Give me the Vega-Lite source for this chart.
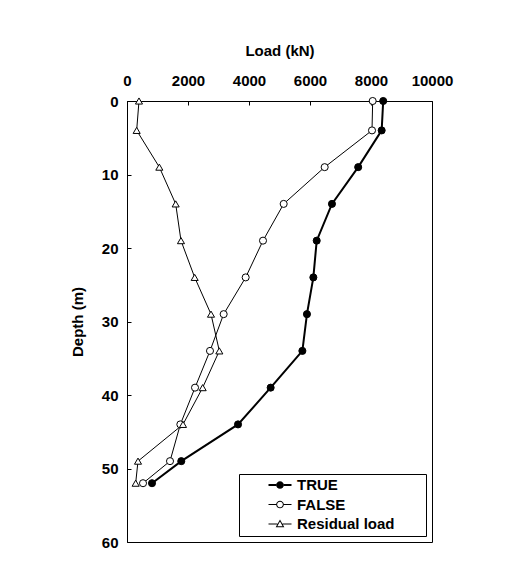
{
  "$schema": "https://vega.github.io/schema/vega-lite/v6.json",
  "width": 305,
  "height": 441,
  "autosize": {"type": "none"},
  "padding": {"left": 127, "top": 101, "right": 84, "bottom": 37},
  "background": "white",
  "config": {
    "view": {"stroke": "black", "strokeWidth": 1},
    "font": "Liberation Sans",
    "axis": {
      "grid": false,
      "domainColor": "black",
      "tickColor": "black",
      "tickSize": -4,
      "labelFont": "Liberation Sans",
      "labelFontSize": 15,
      "labelFontWeight": "bold",
      "labelColor": "black",
      "titleFont": "Liberation Sans",
      "titleFontSize": 15,
      "titleFontWeight": "bold",
      "titleColor": "black",
      "labelFlush": false,
      "labelOverlap": false
    },
    "legend": {
      "labelFont": "Liberation Sans",
      "labelFontSize": 15,
      "labelFontWeight": "bold",
      "labelColor": "black"
    }
  },
  "data": {
    "values": [
      {"series": "TRUE", "depth": 0, "load": 8400},
      {"series": "TRUE", "depth": 4, "load": 8350},
      {"series": "TRUE", "depth": 9, "load": 7580},
      {"series": "TRUE", "depth": 14, "load": 6720},
      {"series": "TRUE", "depth": 19, "load": 6220},
      {"series": "TRUE", "depth": 24, "load": 6110},
      {"series": "TRUE", "depth": 29, "load": 5900},
      {"series": "TRUE", "depth": 34, "load": 5750},
      {"series": "TRUE", "depth": 39, "load": 4710},
      {"series": "TRUE", "depth": 44, "load": 3640},
      {"series": "TRUE", "depth": 49, "load": 1780},
      {"series": "TRUE", "depth": 52, "load": 820},
      {"series": "FALSE", "depth": 0, "load": 8055},
      {"series": "FALSE", "depth": 4, "load": 8033},
      {"series": "FALSE", "depth": 9, "load": 6481},
      {"series": "FALSE", "depth": 14, "load": 5137},
      {"series": "FALSE", "depth": 19, "load": 4459},
      {"series": "FALSE", "depth": 24, "load": 3891},
      {"series": "FALSE", "depth": 29, "load": 3169},
      {"series": "FALSE", "depth": 34, "load": 2721},
      {"series": "FALSE", "depth": 39, "load": 2230},
      {"series": "FALSE", "depth": 44, "load": 1749},
      {"series": "FALSE", "depth": 49, "load": 1410},
      {"series": "FALSE", "depth": 52, "load": 525},
      {"series": "Residual load", "depth": 0, "load": 393},
      {"series": "Residual load", "depth": 4, "load": 317},
      {"series": "Residual load", "depth": 9, "load": 1060},
      {"series": "Residual load", "depth": 14, "load": 1596},
      {"series": "Residual load", "depth": 19, "load": 1770},
      {"series": "Residual load", "depth": 24, "load": 2219},
      {"series": "Residual load", "depth": 29, "load": 2754},
      {"series": "Residual load", "depth": 34, "load": 3027},
      {"series": "Residual load", "depth": 39, "load": 2481},
      {"series": "Residual load", "depth": 44, "load": 1836},
      {"series": "Residual load", "depth": 49, "load": 361},
      {"series": "Residual load", "depth": 52, "load": 284}
    ]
  },
  "encoding": {
    "x": {
      "field": "load",
      "type": "quantitative",
      "scale": {"domain": [0, 10000], "nice": false, "zero": false},
      "axis": {
        "orient": "top",
        "title": "Load (kN)",
        "values": [0, 2000, 4000, 6000, 8000, 10000],
        "format": "d",
        "labelPadding": 17,
        "titlePadding": 15
      }
    },
    "y": {
      "field": "depth",
      "type": "quantitative",
      "scale": {"domain": [0, 60], "reverse": true, "nice": false, "zero": false},
      "axis": {
        "title": "Depth (m)",
        "values": [0, 10, 20, 30, 40, 50, 60],
        "labelPadding": 13,
        "titlePadding": 16
      }
    }
  },
  "layer": [
    {
      "mark": {"type": "line", "color": "black"},
      "encoding": {
        "detail": {"field": "series", "type": "nominal"},
        "order": {"field": "depth", "type": "quantitative"},
        "strokeWidth": {
          "condition": {"test": "datum.series === 'TRUE'", "value": 2},
          "value": 1
        }
      }
    },
    {
      "mark": {"type": "point", "stroke": "black", "strokeWidth": 1, "opacity": 1, "size": 50},
      "encoding": {
        "shape": {
          "condition": {"test": "datum.series === 'Residual load'", "value": "triangle-up"},
          "value": "circle"
        },
        "fill": {
          "condition": {"test": "datum.series === 'TRUE'", "value": "black"},
          "value": "white"
        }
      }
    },
    {
      "mark": {"type": "point", "stroke": "black", "strokeWidth": 1, "opacity": 0, "size": 50},
      "encoding": {
        "shape": {
          "field": "series",
          "type": "nominal",
          "scale": {
            "domain": ["TRUE", "FALSE", "Residual load"],
            "range": [
              "M-1.643,-0.14H-0.55V0.14H-1.643ZM0.55,-0.14H1.643V0.14H0.55ZM0.55,0A0.55,0.55,0,1,1,-0.55,0A0.55,0.55,0,1,1,0.55,0ZM20.3,0",
              "M-1.643,-0.07H-0.55V0.07H-1.643ZM0.55,-0.07H1.643V0.07H0.55ZM0.55,0A0.55,0.55,0,1,1,-0.55,0A0.55,0.55,0,1,1,0.55,0ZM0.41,0A0.41,0.41,0,1,0,-0.41,0A0.41,0.41,0,1,0,0.41,0ZM20.3,0",
              "M-1.643,-0.07H-0.366V0.07H-1.643ZM0.366,-0.07H1.643V0.07H0.366ZM0,-0.65L0.62,0.45L-0.62,0.45ZM0,-0.37L-0.38,0.31L0.38,0.31ZM20.3,0"
            ]
          },
          "legend": {
            "title": null,
            "orient": "bottom-right",
            "offset": 6,
            "padding": 3.5,
            "rowPadding": 3.5,
            "strokeColor": "black",
            "fillColor": "white",
            "symbolSize": 196,
            "symbolOpacity": 1,
            "symbolStrokeWidth": 0,
            "symbolOffset": 30,
            "labelOffset": 9.5
          }
        },
        "fill": {
          "field": "series",
          "type": "nominal",
          "scale": {
            "domain": ["TRUE", "FALSE", "Residual load"],
            "range": ["black", "black", "black"]
          }
        }
      }
    }
  ]
}
